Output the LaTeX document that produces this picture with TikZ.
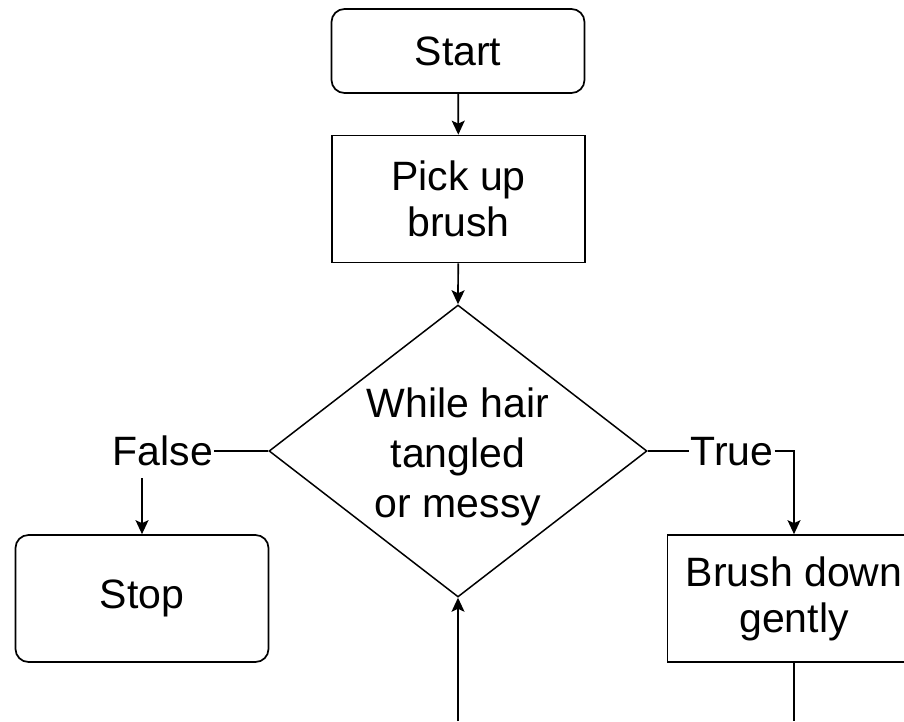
\documentclass[tikz,border=0pt]{standalone}
\usepackage{fontspec}
\setmainfont{Liberation Sans}
\usetikzlibrary{arrows.meta,shapes.geometric}

\begin{document}
\begin{tikzpicture}[
  x=1pt, y=-1pt,
  every node/.style={font=\fontsize{41}{46}\selectfont},
  flowline/.style={line width=1.7pt, draw=black},
  arrowline/.style={flowline, -{Stealth[width=13pt,length=14pt,inset=3pt]}},
  terminal/.style={draw, line width=1.7pt, rounded corners=13pt, minimum width=253pt, minimum height=84pt, inner sep=0pt},
  process/.style={draw, line width=1.7pt, minimum width=253pt, minimum height=127pt, align=center, inner sep=0pt},
  decision/.style={draw, line width=1.5pt, diamond, minimum width=378pt, minimum height=292pt, inner sep=0pt},
  branchlabel/.style={inner sep=1pt, anchor=base}
]
  \useasboundingbox (0,0) rectangle (904,721);
  \clip (0,0) rectangle (904,721);

  % boxes of the flow
  \node[terminal] (start) at (458,51) {Start};
  \node[process] (pick) at (458.5,199) {Pick up\\brush};
  \node[decision] (dec) at (458,451) {};
  \node[align=center, font=\fontsize{41}{50}\selectfont] (dectext) at (458,457) {While hair\\tangled\\or messy};
  \node[terminal, minimum height=127pt] (stop) at (142,598.5) {Stop};
  \node[process] (brush) at (794,598.5) {Brush down\\gently};

  % branch labels beside the decision
  \node[branchlabel] (false) at (163,465) {False};
  \node[branchlabel] (true) at (732,465) {True};

  % loose ends at the lower edge
  \coordinate (loopout) at (794,721);
  \coordinate (loopin) at (458,721);

  % connectors
  \draw[arrowline] (start) -- (pick);
  \draw[arrowline] (pick) -- (dec.north);
  \draw[flowline] (dec.west) -- (false.east |- dec.west);
  \draw[arrowline] (stop.north |- 0,478) -- (stop.north);
  \draw[flowline] (dec.east) -- (true.west |- dec.east);
  \draw[arrowline] (true.east |- dec.east) -| (brush.north);
  \draw[flowline] (brush.south) -- (loopout);
  \draw[arrowline] (loopin) -- (dec.south);
\end{tikzpicture}
\end{document}
